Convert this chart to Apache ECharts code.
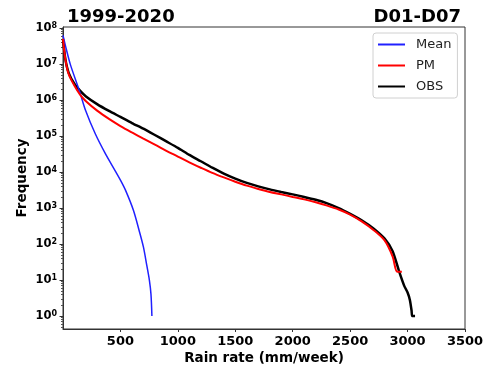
<!DOCTYPE html>
<html>
<head>
<meta charset="utf-8">
<script src="https://cdn.jsdelivr.net/npm/echarts@6/dist/echarts.min.js"></script>
<style>html,body{margin:0;padding:0;background:#fff;}#c{width:496px;height:368px;}</style>
</head>
<body>
<div id="c"></div>
<script>
// Rain rate (mm/week) and frequency for each series
const obsX = [0, 20, 50, 100, 150, 200, 300, 400, 500, 600, 700, 800, 900, 1000, 1100, 1200, 1300, 1400, 1500, 1600, 1700, 1800, 1900, 2000, 2100, 2200, 2300, 2400, 2500, 2600, 2700, 2800, 2870, 2930, 2970, 3000, 3020, 3035, 3040, 3065];
const obsY = [5.0e7, 1.4e7, 5.6e6, 2.8e6, 1.8e6, 1.26e6, 7.6e5, 5.0e5, 3.4e5, 2.3e5, 1.6e5, 1.07e5, 7.1e4, 4.7e4, 3.0e4, 2.0e4, 1.32e4, 9.1e3, 6.6e3, 5.0e3, 4.0e3, 3.3e3, 2.8e3, 2.4e3, 2.04e3, 1.7e3, 1.35e3, 1.0e3, 690, 457, 275, 141, 63, 16, 7, 4.5, 2.8, 1.4, 1, 1];
const pmX = [0, 20, 50, 100, 150, 200, 300, 400, 500, 600, 700, 800, 900, 1000, 1100, 1200, 1300, 1400, 1500, 1600, 1700, 1800, 1900, 2000, 2100, 2200, 2300, 2400, 2500, 2600, 2700, 2800, 2870, 2910, 2950];
const pmY = [5.0e7, 1.4e7, 5.2e6, 2.5e6, 1.4e6, 9.3e5, 5.0e5, 3.0e5, 1.9e5, 1.26e5, 8.5e4, 5.8e4, 3.9e4, 2.7e4, 1.86e4, 1.32e4, 9.5e3, 7.1e3, 5.4e3, 4.2e3, 3.4e3, 2.8e3, 2.4e3, 2.04e3, 1.74e3, 1.45e3, 1.17e3, 910, 660, 427, 251, 126, 45, 17, 17];
const meanX = [0, 30, 65, 143, 196, 283, 370, 457, 500, 543, 613, 665, 700, 730, 752, 766, 774];
const meanY = [6.3e7, 2.5e7, 9.5e6, 1.8e6, 5.2e5, 1.12e5, 3.2e4, 1.05e4, 6.0e3, 3.2e3, 870, 224, 83, 25, 10, 4, 1];
const xTicks = [500, 1000, 1500, 2000, 2500, 3000, 3500];
const yExponents = [0, 1, 2, 3, 4, 5, 6, 7, 8];
const seriesNames = ['Mean', 'PM', 'OBS'];
const titleLeft = '1999-2020';
const titleRight = 'D01-D07';

const FONT = 'DejaVu Sans';
const yMin = -0.36, yMax = 8.03;
const minorTicks = [];
for (let n = -1; n <= 7; n++) {
  for (let k = 2; k <= 9; k++) {
    const v = n + Math.log10(k);
    if (v > yMin && v < yMax) minorTicks.push(v);
  }
}
function toPairs(xs, ys) { return xs.map((x, i) => [x, Math.log10(ys[i])]); }

const chart = echarts.init(document.getElementById('c'), null, {renderer: 'canvas'});
chart.setOption({
  animation: false,
  backgroundColor: '#fff',
  title: [
    {text: titleLeft, left: 62, top: 3, textStyle: {fontFamily: FONT, fontSize: 18, fontWeight: 'bold', color: '#000'}},
    {text: titleRight, right: 30, top: 3, textStyle: {fontFamily: FONT, fontSize: 18, fontWeight: 'bold', color: '#000'}}
  ],
  grid: {left: 63, right: 31, top: 27, bottom: 39, containLabel: false, outerBoundsMode: 'none', show: true, borderColor: '#333', borderWidth: 1, backgroundColor: 'transparent'},
  legend: {
    data: seriesNames, orient: 'vertical', left: 373, top: 33,
    icon: 'rect', itemWidth: 27, itemHeight: 2, itemGap: 6,
    padding: [4, 6, 4, 5], borderColor: '#d0d0d0', borderWidth: 1, borderRadius: 3, backgroundColor: '#fff',
    textStyle: {fontFamily: FONT, fontSize: 13, color: '#222', lineHeight: 15, padding: [0, 0, 0, 6]}
  },
  xAxis: {
    type: 'value', min: 0, max: 3500, interval: 500,
    name: 'Rain rate (mm/week)', nameLocation: 'middle', nameGap: 22, nameMoveOverlap: false,
    nameTextStyle: {fontFamily: FONT, fontSize: 13.5, fontWeight: 'bold', color: '#000'},
    axisLine: {show: true, onZero: false, lineStyle: {color: '#333', width: 1}},
    axisTick: {show: true, length: 3, lineStyle: {color: '#333'}, customValues: xTicks},
    axisLabel: {customValues: xTicks, margin: 6, formatter: v => String(v), fontFamily: FONT, fontSize: 13, fontWeight: 'bold', color: '#000'},
    splitLine: {show: false}
  },
  yAxis: [
    {
      type: 'value', min: yMin, max: yMax,
      name: 'Frequency', nameLocation: 'middle', nameGap: 34, nameRotate: 90, nameMoveOverlap: false,
      nameTextStyle: {fontFamily: FONT, fontSize: 13.5, fontWeight: 'bold', color: '#000'},
      axisLine: {show: true, onZero: false, lineStyle: {color: '#333', width: 1}},
      axisTick: {show: true, length: 3.5, lineStyle: {color: '#333'}, customValues: yExponents},
      axisLabel: {
        customValues: yExponents, margin: 6,
        formatter: v => '{b|10}{s|' + Math.round(v) + '}',
        rich: {
          b: {fontFamily: FONT, fontSize: 11.5, fontWeight: 'bold', color: '#000', lineHeight: 12, verticalAlign: 'bottom'},
          s: {fontFamily: FONT, fontSize: 8, fontWeight: 'bold', color: '#000', lineHeight: 10, verticalAlign: 'top', padding: [0, 0, 6, 0]}
        }
      },
      splitLine: {show: false}
    },
    {
      type: 'value', min: yMin, max: yMax, position: 'left',
      axisLine: {show: false, onZero: false},
      axisTick: {show: true, length: 2, lineStyle: {color: '#555'}, customValues: minorTicks},
      axisLabel: {show: false},
      splitLine: {show: false}
    }
  ],
  series: [
    {name: 'Mean', type: 'line', data: toPairs(meanX, meanY), showSymbol: false, smooth: 0.3, lineStyle: {color: '#2020ff', width: 1.5}, itemStyle: {color: '#2020ff'}, z: 3},
    {name: 'PM', type: 'line', data: toPairs(pmX, pmY), showSymbol: false, smooth: 0.3, lineStyle: {color: '#ff0000', width: 2}, itemStyle: {color: '#ff0000'}, z: 4},
    {name: 'OBS', type: 'line', data: toPairs(obsX, obsY), showSymbol: false, smooth: 0.2, lineStyle: {color: '#000', width: 2.5}, itemStyle: {color: '#000'}, z: 2}
  ]
});
</script>
</body>
</html>
